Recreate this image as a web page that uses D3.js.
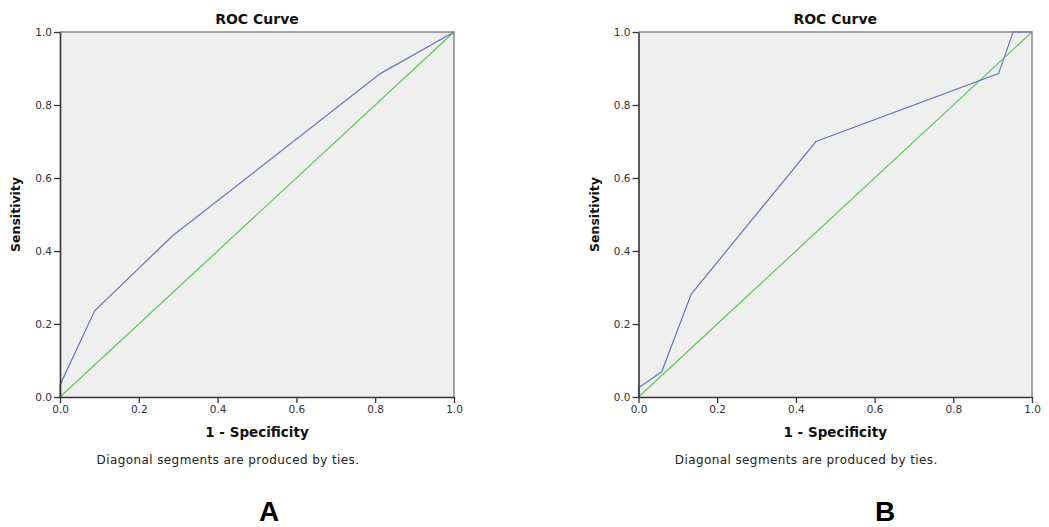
<!DOCTYPE html>
<html>
<head>
<meta charset="utf-8">
<script src="https://cdn.jsdelivr.net/npm/d3@7"></script>
<style>
  body { margin: 0; background: #fff; }
  svg { display: block; }
  .tick text { font-family: "DejaVu Sans", sans-serif; font-size: 10.5px; fill: #333; }
</style>
</head>
<body>
<div id="chart"></div>
<script>
// ROC points (1 - specificity, sensitivity)
const fprA = [0, 0, 0.088, 0.285, 0.813, 1];
const tprA = [0, 0.033, 0.236, 0.441, 0.886, 1];
const fprB = [0, 0, 0.059, 0.134, 0.451, 0.915, 0.952, 1];
const tprB = [0, 0.025, 0.069, 0.282, 0.700, 0.886, 1, 1];
const refLine = [0, 1];  // chance diagonal
const tickVals = [0, 0.2, 0.4, 0.6, 0.8, 1.0];
const panelLabels = ["A", "B"];

const width = 1049;
const height = 527;
const curveColor = "#6576c6";
const diagColor = "#5cc85c";

// each panel: left/right of the plot box in px, x of the big panel letter
const panels = [
  { x0: 60, x1: 454, labelX: 269, fpr: fprA, tpr: tprA, label: panelLabels[0] },
  { x0: 638.5, x1: 1032, labelX: 885, fpr: fprB, tpr: tprB, label: panelLabels[1] }
];
const plotTop = 32, plotBottom = 397;

const svg = d3.select("#chart").append("svg")
    .attr("width", width)
    .attr("height", height);

panels.forEach(function(p) {
    var x = d3.scaleLinear().domain([0, 1]).range([p.x0, p.x1]);
    var y = d3.scaleLinear().domain([0, 1]).range([plotBottom, plotTop]);
    var g = svg.append("g");
    var cx = (p.x0 + p.x1) / 2;

    g.append("rect")
        .attr("x", p.x0).attr("y", plotTop)
        .attr("width", p.x1 - p.x0).attr("height", plotBottom - plotTop)
        .attr("fill", "#efefef");
    // light top/right frame
    g.append("path")
        .attr("d", "M" + p.x0 + "," + plotTop + "H" + p.x1 + "V" + plotBottom)
        .attr("fill", "none").attr("stroke", "#888").attr("stroke-width", 1.5);

    var line = d3.line().x(function(d) { return x(d[0]); }).y(function(d) { return y(d[1]); });
    g.append("path")
        .datum(d3.zip(refLine, refLine))
        .attr("d", line)
        .attr("fill", "none").attr("stroke", diagColor).attr("stroke-width", 1.2);
    g.append("path")
        .datum(d3.zip(p.fpr, p.tpr))
        .attr("d", line)
        .attr("fill", "none").attr("stroke", curveColor).attr("stroke-width", 1.2);

    var xAxis = d3.axisBottom(x).tickValues(tickVals).tickFormat(d3.format(".1f"))
        .tickSizeInner(6).tickSizeOuter(0).tickPadding(3);
    var yAxis = d3.axisLeft(y).tickValues(tickVals).tickFormat(d3.format(".1f"))
        .tickSizeInner(6).tickSizeOuter(0).tickPadding(2);
    var gx = g.append("g").attr("transform", "translate(0," + plotBottom + ")").call(xAxis);
    var gy = g.append("g").attr("transform", "translate(" + p.x0 + ",0)").call(yAxis);
    [gx, gy].forEach(function(a) {
        a.select(".domain").attr("stroke", "#333").attr("stroke-width", 1.6);
        a.selectAll(".tick line").attr("stroke", "#333").attr("stroke-width", 1.3);
    });

    g.append("text")
        .attr("x", cx).attr("y", 24)
        .attr("text-anchor", "middle")
        .style("font-family", "'DejaVu Sans', sans-serif")
        .style("font-weight", "bold").style("font-size", "14px")
        .attr("fill", "#111")
        .text("ROC Curve");
    g.append("text")
        .attr("x", cx).attr("y", 437)
        .attr("text-anchor", "middle")
        .style("font-family", "'DejaVu Sans', sans-serif")
        .style("font-weight", "bold").style("font-size", "13.5px")
        .attr("fill", "#111")
        .text("1 - Specificity");
    g.append("text")
        .attr("transform", "translate(" + (p.x0 - 40) + "," + (plotTop + plotBottom) / 2 + ") rotate(-90)")
        .attr("x", 0).attr("y", 0)
        .attr("text-anchor", "middle")
        .style("font-family", "'DejaVu Sans', sans-serif")
        .style("font-weight", "bold").style("font-size", "12.5px")
        .attr("fill", "#111")
        .text("Sensitivity");
    g.append("text")
        .attr("x", cx - 29).attr("y", 464)
        .attr("text-anchor", "middle")
        .style("font-family", "'DejaVu Sans', sans-serif")
        .style("font-size", "12px")
        .style("letter-spacing", "0.4px")
        .attr("fill", "#222")
        .text("Diagonal segments are produced by ties.");
    g.append("text")
        .attr("x", p.labelX).attr("y", 521)
        .attr("text-anchor", "middle")
        .style("font-family", "'Liberation Sans', Arial, sans-serif")
        .style("font-weight", "bold").style("font-size", "28px")
        .attr("fill", "#000")
        .text(p.label);
});
</script>
</body>
</html>
